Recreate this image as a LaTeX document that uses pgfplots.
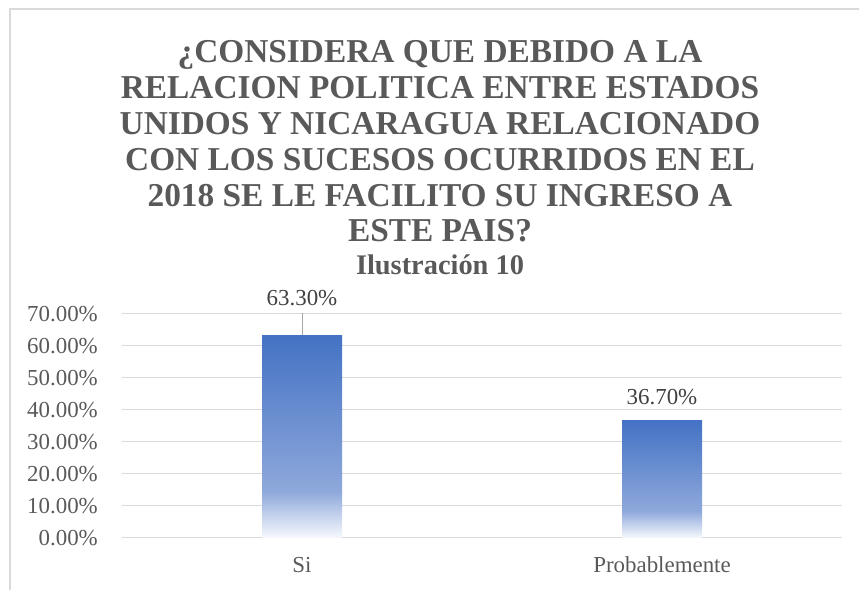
\documentclass[border=0pt]{standalone}
\usepackage{fontspec}
\setmainfont{Liberation Serif}
\usepackage{pgfplots}
\pgfplotsset{compat=1.18}
\definecolor{txt}{HTML}{595959}
\definecolor{lbl}{HTML}{404040}
\definecolor{gridc}{HTML}{D9D9D9}
\definecolor{leader}{HTML}{A6A6A6}
\definecolor{bartop}{HTML}{4472C4}
\definecolor{barmid}{HTML}{8EA8DB}
\definecolor{barbot}{HTML}{F7F9FD}
\pgfdeclareverticalshading{barshade}{100bp}{color(0bp)=(barbot); color(25bp)=(barbot); color(36.5bp)=(barmid); color(75bp)=(bartop); color(100bp)=(bartop)}
\begin{document}
\begin{tikzpicture}[x=1bp,y=1bp]
\useasboundingbox (0,0) rectangle (859,590);
\draw[gridc, line width=2bp] (10,0) -- (10,581) -- (859,581);
\begin{scope}[every node/.style={inner sep=0pt, anchor=base, text=txt, font=\fontsize{33.5}{36}\selectfont\bfseries}]
\node at (440,527) {¿CONSIDERA QUE DEBIDO A LA};
\node at (440,491.2) {RELACION POLITICA ENTRE ESTADOS};
\node at (440,455.4) {UNIDOS Y NICARAGUA RELACIONADO};
\node at (440,419.6) {CON LOS SUCESOS OCURRIDOS EN EL};
\node at (440,383.8) {2018 SE LE FACILITO SU INGRESO A};
\node at (440,348) {ESTE PAIS?};
\node[font=\fontsize{28.5}{32}\selectfont\bfseries] at (440,315) {Ilustración 10};
\end{scope}
\begin{axis}[
  at={(122bp,52bp)}, anchor=south west,
  scale only axis, width=720bp, height=224bp,
  xmin=-0.5, xmax=1.5, ymin=0, ymax=70,
  ytick={0,10,...,70},
  xtick={0,1}, xticklabels={Si,Probablemente},
  axis line style={draw=none},
  major tick length=0pt,
  ymajorgrids,
  major grid style={gridc, line width=1bp},
  clip=false,
  ybar, bar width=80bp, bar shift=0pt,
  /pgf/number format/assume math mode=true,
  tick label style={font=\fontsize{23}{27}\selectfont, text=txt},
  yticklabel style={anchor=east, inner sep=0pt, xshift=-24bp},
  xticklabel style={anchor=base, inner sep=0pt, yshift=-35bp},
  yticklabel={\pgfmathprintnumber[fixed,fixed zerofill,precision=2]{\tick}\%},
  nodes near coords={\pgfmathprintnumber[fixed,fixed zerofill,precision=2]{\pgfplotspointmeta}\%},
  point meta=y,
]
\addplot[draw=none, shade, shading=barshade,
  every node near coord/.append style={anchor=base, yshift=30bp, inner sep=0pt, text=lbl, font=\fontsize{23}{27}\selectfont}
] coordinates {(0,63.3)};
\addplot[draw=none, shade, shading=barshade,
  every node near coord/.append style={anchor=base, yshift=16bp, inner sep=0pt, text=lbl, font=\fontsize{23}{27}\selectfont}
] coordinates {(1,36.7)};
\draw[leader, line width=1bp] (axis cs:0,70.2) -- (axis cs:0,63.3);
\end{axis}
\end{tikzpicture}
\end{document}
